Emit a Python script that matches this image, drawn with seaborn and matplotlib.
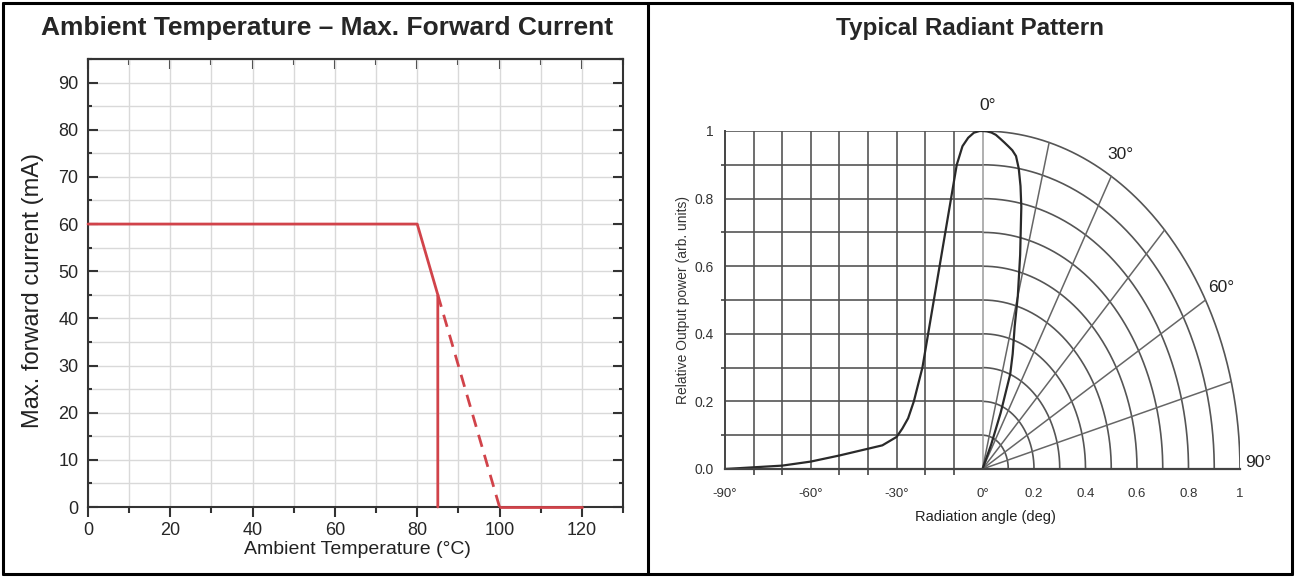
import seaborn as sns
import matplotlib.pyplot as plt
import numpy as np
from matplotlib.ticker import MultipleLocator

# ---- data: derating curve ----
temp_solid = [0, 80, 85, 85]
current_solid = [60, 60, 45, 0]
temp_dash = [85, 100]
current_dash = [45, 0]
temp_off = [100, 120]
current_off = [0, 0]

# ---- data: radiant pattern ----
# left half, cartesian (angle in deg, relative power)
cart_angle = [-90, -80, -70, -60, -50, -40, -35, -30, -28, -26, -24, -21, -19,
              -15, -11, -9, -7, -5, -3, -1, 0]
cart_power = [0.0, 0.005, 0.01, 0.022, 0.04, 0.06, 0.07, 0.095, 0.12, 0.15, 0.2,
              0.3, 0.4, 0.6, 0.8, 0.9, 0.955, 0.98, 0.995, 1.0, 1.0]
# right half, polar (angle from axis in deg, relative power)
polar_angle = [0, 1, 2, 3, 4, 5, 6, 7, 8, 9, 10, 11, 13, 15, 16.5, 19, 21, 23,
               25, 27]
polar_power = [1.0, 0.999, 0.996, 0.99, 0.98, 0.97, 0.96, 0.95, 0.935, 0.9,
               0.85, 0.79, 0.65, 0.53, 0.44, 0.36, 0.30, 0.18, 0.08, 0.0]

arc_levels = [0.1, 0.2, 0.3, 0.4, 0.5, 0.6, 0.7, 0.8, 0.9, 1.0]
ray_angles = [15, 30, 45, 60, 75]
angle_labels = [0, 30, 60, 90]
left_grid_deg = [-80, -70, -60, -50, -40, -30, -20, -10]

sns.set_theme(style='white')
plt.rcParams['font.family'] = ['Liberation Sans', 'DejaVu Sans']

W, H = 1295, 577
fig = plt.figure(figsize=(W / 100, H / 100), dpi=100)


def box(x0, y0, x1, y1):
    return [x0 / W, 1 - y1 / H, (x1 - x0) / W, (y1 - y0) / H]


# ---- frame around both panels ----
for xs, ys in [([3, 1292], [3, 3]), ([3, 1292], [574, 574]),
               ([3, 3], [3, 574]), ([1292, 1292], [3, 574]),
               ([648, 648], [3, 574])]:
    fig.add_artist(plt.Line2D([x / W for x in xs], [1 - y / H for y in ys],
                              color='black', lw=2.2, transform=fig.transFigure))

fig.text(327 / W, 1 - 28 / H, 'Ambient Temperature – Max. Forward Current',
         ha='center', va='center', fontsize=19, fontweight='bold')
fig.text(970 / W, 1 - 28 / H, 'Typical Radiant Pattern',
         ha='center', va='center', fontsize=17.5, fontweight='bold')

# ---- left panel ----
red = '#d1434a'
ax1 = fig.add_axes(box(88, 59, 623, 507))
sns.lineplot(x=temp_solid, y=current_solid, ax=ax1, color=red, lw=2,
             sort=False, estimator=None, zorder=5, clip_on=False)
sns.lineplot(x=temp_dash, y=current_dash, ax=ax1, color=red, lw=2,
             linestyle=(0, (4.5, 3)), sort=False, estimator=None, zorder=5)
sns.lineplot(x=temp_off, y=current_off, ax=ax1, color=red, lw=2,
             sort=False, estimator=None, zorder=5, clip_on=False)
ax1.set_xlim(0, 130)
ax1.set_ylim(0, 95)
ax1.xaxis.set_major_locator(MultipleLocator(20))
ax1.xaxis.set_minor_locator(MultipleLocator(10))
ax1.yaxis.set_major_locator(MultipleLocator(10))
ax1.yaxis.set_minor_locator(MultipleLocator(5))
ax1.grid(which='both', color='#d9d9d9', lw=1)
ax1.set_axisbelow(True)
for s in ax1.spines.values():
    s.set_color('#333333')
    s.set_linewidth(1.5)
ax1.tick_params(axis='x', which='major', direction='out', length=7, width=1.5,
                color='#333333', labelsize=13, pad=4, bottom=True)
ax1.tick_params(axis='x', which='minor', direction='out', length=4, width=1.5,
                color='#333333', bottom=True)
ax1.tick_params(axis='y', which='major', direction='in', length=7, width=1.5,
                color='#333333', labelsize=13, pad=7, left=True, right=True)
ax1.tick_params(axis='y', which='minor', direction='in', length=3, width=1.5,
                color='#333333', left=True, right=True)
top = ax1.secondary_xaxis('top')
top.xaxis.set_major_locator(MultipleLocator(20))
top.xaxis.set_minor_locator(MultipleLocator(10))
top.tick_params(which='major', direction='in', length=7, width=1.5,
                color='#333333', labeltop=False)
top.tick_params(which='minor', direction='in', length=4, width=1.5,
                color='#333333')
top.spines['top'].set_color('#333333')
top.spines['top'].set_linewidth(1.5)
ax1.set_xlabel('')
ax1.set_ylabel('')
fig.text(357 / W, 1 - 549 / H, 'Ambient Temperature (°C)', ha='center',
         va='center', fontsize=14, color='#222222')
fig.text(33 / W, 1 - 290 / H, 'Max. forward current (mA)', ha='center',
         va='center', rotation=90, fontsize=17, color='#222222')

# ---- right panel ----
grid_c = '#555555'
ax2 = fig.add_axes(box(725, 131, 1240, 469))
ax2.set_xlim(-1, 1)
ax2.set_ylim(0, 1)
for g in left_grid_deg:
    ax2.plot([g / 90, g / 90], [0, 1], color=grid_c, lw=1.2)
for r in arc_levels:
    ax2.plot([-1, 0], [r, r], color=grid_c, lw=1.2)
theta = np.linspace(0, np.pi / 2, 200)
for r in arc_levels:
    ax2.plot(r * np.sin(theta), r * np.cos(theta), color=grid_c, lw=1.2)
ax2.plot([0, 0], [0, 1], color='#9a9a9a', lw=1.1)
for a in ray_angles:
    t = np.radians(a)
    ax2.plot([0, np.sin(t)], [0, np.cos(t)], color='#666666', lw=1.1)

sns.lineplot(x=np.array(cart_angle) / 90, y=cart_power, ax=ax2,
             color='#2a2a2a', lw=1.6, sort=False, estimator=None)
pt = np.radians(polar_angle)
pp = np.array(polar_power)
sns.lineplot(x=pp * np.sin(pt), y=pp * np.cos(pt), ax=ax2,
             color='#2a2a2a', lw=1.6, sort=False, estimator=None)

for a in angle_labels:
    t = np.radians(a)
    dx = 0.02 if a == 0 else 0.0
    ax2.text(1.07 * np.sin(t) + dx, 1.075 * np.cos(t) + (0.02 if a == 90 else 0),
             f'{a}°', ha='center', va='center', fontsize=12.5, color='#222222',
             clip_on=False)

ax2.spines['top'].set_visible(False)
ax2.spines['right'].set_visible(False)
ax2.spines['left'].set_color('#444444')
ax2.spines['bottom'].set_color('#444444')
ax2.spines['left'].set_linewidth(1.4)
ax2.spines['bottom'].set_linewidth(1.6)
ax2.set_xticks([-1, -2 / 3, -1 / 3, 0, 0.2, 0.4, 0.6, 0.8, 1],
               labels=['-90°', '-60°', '-30°', '0°', '0.2', '0.4', '0.6', '0.8', '1'])
ax2.set_xticks([k / 9 for k in range(-9, 1)], minor=True)
ax2.set_yticks([0, 0.2, 0.4, 0.6, 0.8, 1],
               labels=['0.0', '0.2', '0.4', '0.6', '0.8', '1'])
ax2.set_yticks(arc_levels, minor=True)
ax2.tick_params(axis='x', which='major', length=0, labelsize=9.5,
                labelcolor='#333333', pad=14)
ax2.tick_params(axis='x', which='minor', length=4, width=1.2, color='#444444',
                direction='out', bottom=True)
ax2.tick_params(axis='y', which='major', length=0, labelsize=10,
                labelcolor='#333333', pad=8)
ax2.tick_params(axis='y', which='minor', length=3, width=1.2, color='#444444',
                direction='out', left=True)
ax2.set_xlabel('')
ax2.set_ylabel('')
fig.text(985 / W, 1 - 517 / H, 'Radiation angle (deg)', ha='center',
         va='center', fontsize=10.5, color='#222222')
fig.text(683 / W, 1 - 300 / H, 'Relative Output power (arb. units)',
         ha='center', va='center', rotation=90, fontsize=10, color='#333333')

fig.savefig('out.png', dpi=100)
